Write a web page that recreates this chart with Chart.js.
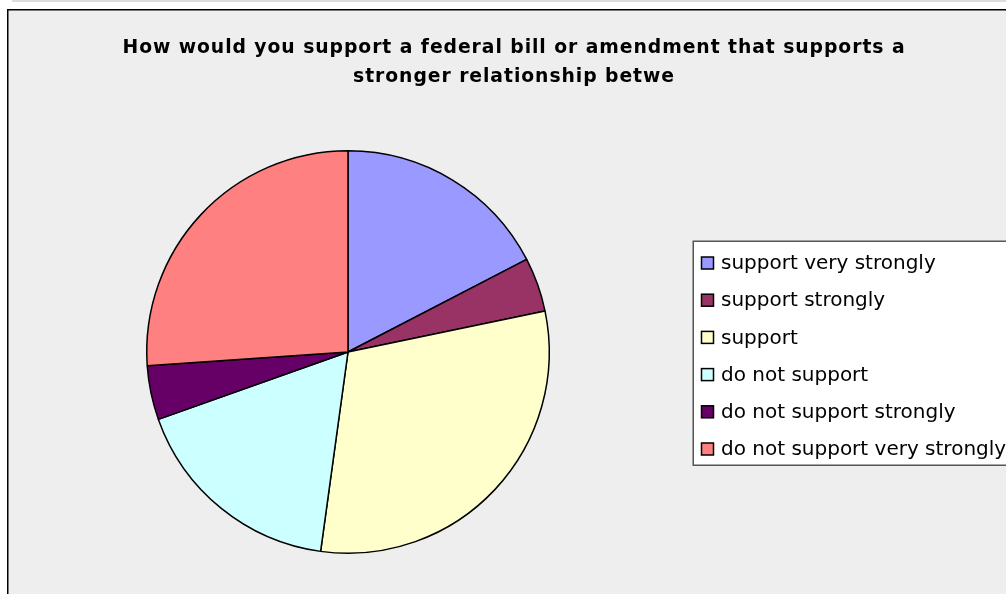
<!DOCTYPE html>
<html>
<head>
<meta charset="utf-8">
<script src="https://cdn.jsdelivr.net/npm/chart.js@4.4.1/dist/chart.umd.min.js"></script>
<style>
  html, body { margin: 0; padding: 0; background: #ffffff; }
  #wrap { width: 1006px; height: 594px; position: relative; }
</style>
</head>
<body>
<div id="wrap"><canvas id="c" width="1006" height="594"></canvas></div>
<script>
// Survey responses
const categories = [
  'support very strongly',
  'support strongly',
  'support',
  'do not support',
  'do not support strongly',
  'do not support very strongly'
];
const responses = [4, 1, 7, 4, 1, 6];
const sliceColors = ['#9999FF', '#993366', '#FFFFCC', '#CCFFFF', '#660066', '#FF8080'];
const titleLines = [
  'How would you support a federal bill or amendment that supports a',
  'stronger relationship betwe'
];

// Frame, title and legend box drawn around the pie
const framePlugin = {
  id: 'frame',
  beforeDraw(chart) {
    const ctx = chart.ctx;
    ctx.save();
    // page strip above the chart object
    ctx.fillStyle = '#ffffff';
    ctx.fillRect(0, 0, chart.width, chart.height);
    ctx.fillStyle = '#dcdcdc';
    ctx.fillRect(12, 0, chart.width - 12, 2);
    // chart object background
    ctx.fillStyle = '#EEEEEE';
    ctx.fillRect(8, 10, chart.width - 8, chart.height - 10);
    ctx.strokeStyle = '#000000';
    ctx.lineWidth = 1.5;
    ctx.beginPath();
    ctx.moveTo(7.75, chart.height);
    ctx.lineTo(7.75, 9.75);
    ctx.lineTo(chart.width, 9.75);
    ctx.stroke();
    // title: bold, first line spans 783px
    ctx.fillStyle = '#000000';
    ctx.font = 'bold 20px "DejaVu Sans"';
    ctx.letterSpacing = '1px';
    ctx.textAlign = 'center';
    ctx.textBaseline = 'alphabetic';
    const w0 = ctx.measureText(titleLines[0]).width;
    const w1 = ctx.measureText(titleLines[1]).width;
    const squeeze = Math.min(1, 783 / w0);
    ctx.fillText(titleLines[0], 514, 53, w0 * squeeze);
    ctx.fillText(titleLines[1], 514, 82, w1 * squeeze);
    ctx.letterSpacing = '0px';
    ctx.restore();
  },
  afterDraw(chart) {
    const ctx = chart.ctx;
    const ds = chart.data.datasets[0];
    ctx.save();
    // legend box
    ctx.fillStyle = '#FFFFFF';
    ctx.fillRect(693, 241, chart.width - 693, 224);
    ctx.strokeStyle = '#555555';
    ctx.lineWidth = 1.5;
    ctx.beginPath();
    ctx.moveTo(chart.width, 241.25);
    ctx.lineTo(693.25, 241.25);
    ctx.lineTo(693.25, 465.25);
    ctx.lineTo(chart.width, 465.25);
    ctx.stroke();
    ctx.font = '20px "DejaVu Sans"';
    ctx.textAlign = 'left';
    ctx.textBaseline = 'middle';
    chart.data.labels.forEach((lab, i) => {
      const y = 263 + i * 37.2;
      ctx.fillStyle = ds.backgroundColor[i];
      ctx.fillRect(701.5, y - 6, 12, 12);
      ctx.strokeStyle = '#000000';
      ctx.lineWidth = 1.5;
      ctx.strokeRect(701.5, y - 6, 12, 12);
      ctx.fillStyle = '#000000';
      ctx.fillText(lab, 721, y + 1);
    });
    ctx.restore();
  }
};

new Chart(document.getElementById('c'), {
  type: 'pie',
  data: {
    labels: categories,
    datasets: [{
      data: responses,
      backgroundColor: sliceColors,
      borderColor: '#000000',
      borderWidth: 1.5
    }]
  },
  options: {
    responsive: false,
    animation: false,
    layout: { padding: { left: 146, right: 456, top: 150, bottom: 40 } },
    plugins: {
      legend: { display: false },
      title: { display: false },
      tooltip: { enabled: false }
    }
  },
  plugins: [framePlugin]
});
</script>
</body>
</html>
